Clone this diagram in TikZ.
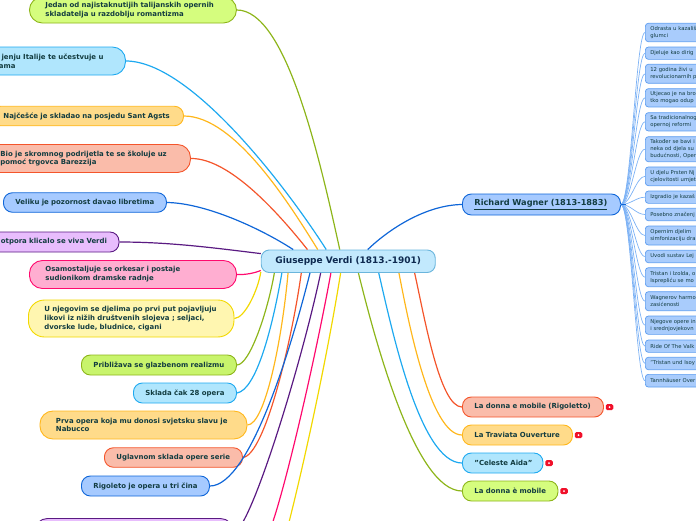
\documentclass[tikz,border=0pt]{standalone}
\usepackage{fontspec}
\setmainfont{DejaVu Sans}
\definecolor{inkteal}{HTML}{123C40}
\definecolor{inknavy}{HTML}{0E2A50}
\definecolor{greenline}{HTML}{8DB51A}
\definecolor{greenfill}{HTML}{D5FD7E}
\definecolor{limefill}{HTML}{C8F46C}
\definecolor{skyline}{HTML}{1EA9F0}
\definecolor{skyfill}{HTML}{B0E6FD}
\definecolor{amberline}{HTML}{FFB71C}
\definecolor{amberfill}{HTML}{FFDB8A}
\definecolor{redline}{HTML}{F4552B}
\definecolor{redfill}{HTML}{FABCAA}
\definecolor{blueline}{HTML}{0F66D8}
\definecolor{bluefill}{HTML}{A6CAFF}
\definecolor{purpleline}{HTML}{5A1A82}
\definecolor{purplefill}{HTML}{E8BDFD}
\definecolor{pinkline}{HTML}{FF0A6E}
\definecolor{pinkfill}{HTML}{FFAED1}
\definecolor{yellowline}{HTML}{F2D800}
\definecolor{yellowfill}{HTML}{FFF6B0}
\definecolor{centerline}{HTML}{6AB5DC}
\definecolor{centerfill}{HTML}{C2E9FD}
\definecolor{leafline}{HTML}{5C9CF0}
\definecolor{leaffill}{HTML}{A9CCFC}
\definecolor{fanline}{HTML}{7DB2F5}
\definecolor{badgered}{HTML}{F0102A}
\tikzstyle{topic}=[draw, anchor=west, align=left, line width=0.9pt, inner ysep=0pt, inner xsep=12pt, rounded corners=9pt, text=inkteal, font=\bfseries\fontsize{6.95}{8.8}\selectfont]
\tikzstyle{ltopic}=[topic, inner xsep=16pt, rounded corners=13pt]
\tikzstyle{leaf}=[draw=leafline, fill=leaffill, anchor=west, align=left, line width=0.7pt, inner ysep=0pt, inner xsep=5pt, rounded corners=3pt, text width=70pt, text=inkteal, font=\fontsize{5.3}{7.2}\selectfont]
\tikzstyle{link}=[line width=1.2pt]
\tikzstyle{fan}=[draw=fanline, line width=0.7pt]
\tikzstyle{badge}=[fill=badgered, inner sep=0pt, minimum width=7.5pt, minimum height=6pt, rounded corners=1.5pt]
\tikzstyle{badgedot}=[fill=white, circle, inner sep=0pt, minimum size=2pt]
\begin{document}
\begin{tikzpicture}[x=1pt, y=-1pt]
        \clip (0, 0) rectangle (696, 520);
        \node[ltopic, draw=greenline, fill=greenfill, text width=175pt, minimum height=26pt] (romantizam) at (29, 10) {Jedan od najistaknutijih talijanskih opernih\\skladatelja u razdoblju romantizma};
        \node[ltopic, draw=skyline, fill=skyfill, inner xsep=22pt, align=right, text width=121pt, minimum height=28pt] (italija) at (-40, 61) {jenju Italije te učestvuje u\\ama\hspace*{88pt}};
        \node[topic, draw=amberline, fill=amberfill, text width=168pt, minimum height=19.5pt] (agata) at (-9, 116) {\mbox{Najčešće je skladao na posjedu Sant Agsts}};
        \node[ltopic, draw=redline, fill=redfill, text width=174pt, minimum height=28pt] (barezzi) at (-16, 158.5) {Bio je skromnog podrijetla te se školuje uz\\pomoć trgovca Barezzija};
        \node[topic, draw=blueline, fill=bluefill, text width=139pt, minimum height=19.5pt] (libreto) at (3, 202.5) {\mbox{Veliku je pozornost davao libretima}};
        \node[topic, draw=purpleline, fill=purplefill, text width=106pt, minimum height=20pt] (viva) at (-11.5, 242) {\mbox{otpora klicalo se viva Verdi}};
        \node[ltopic, draw=pinkline, fill=pinkfill, text width=175pt, minimum height=28pt] (orkestar) at (29, 274.5) {Osamostaljuje se orkesar i postaje\\sudionikom dramske radnje};
        \node[ltopic, draw=yellowline, fill=yellowfill, rounded corners=16pt, text width=173.5pt, minimum height=37pt] (likovi) at (28, 318.5) {U njegovim se djelima po prvi put pojavljuju\\likovi iz nižih društvenih slojeva ; seljaci,\\dvorske lude, bludnice, cigani};
        \node[topic, draw=greenline, fill=limefill, text width=131pt, minimum height=20pt] (realizam) at (81, 365) {\mbox{Približava se glazbenom realizmu}};
        \node[topic, draw=skyline, fill=skyfill, text width=79pt, minimum height=20pt] (skladba) at (133, 393) {\mbox{Sklada čak 28 opera}};
        \node[ltopic, draw=amberline, fill=amberfill, text width=175pt, minimum height=28pt] (nabucco) at (39.5, 425) {Prva opera koja mu donosi svjetsku slavu je\\Nabucco};
        \node[topic, draw=redline, fill=redfill, text width=114pt, minimum height=19.5pt] (serie) at (104, 457.5) {\mbox{Uglavnom sklada opere serie}};
        \node[topic, draw=blueline, fill=bluefill, text width=104pt, minimum height=20pt] (rigoleto) at (81, 486) {\mbox{Rigoleto je opera u tri čina}};
        \node[ltopic, draw=purpleline, fill=purplefill, text width=167pt, minimum height=28pt] (donji) at (34, 532.5) {};
        \coordinate (pinkend) at (270, 530);
        \coordinate (yellowend) at (287, 530);
        \node[draw=centerline, fill=centerfill, line width=0.9pt, rounded corners=8pt, minimum width=174pt, minimum height=22.5pt, inner sep=0pt, text=inknavy, font=\bfseries\fontsize{9}{10}\selectfont] (verdi) at (348.25, 261.25) {Giuseppe Verdi (1813.-1901)};
        \node[topic, draw=blueline, fill=bluefill, text width=134pt, minimum height=21pt, font=\bfseries\fontsize{8.2}{10}\selectfont] (wagner) at (462, 204.5) {\underline{Richard Wagner (1813-1883)}};
        \node[topic, draw=redline, fill=redfill, text width=117pt, minimum height=20pt] (mobile) at (462, 407) {\mbox{La donna e mobile (Rigoletto)}};
        \node[topic, draw=amberline, fill=amberfill, text width=86pt, minimum height=20pt] (traviata) at (462, 435) {\mbox{La Traviata Ouverture}};
        \node[topic, draw=skyline, fill=skyfill, text width=56.5pt, minimum height=20pt] (aida) at (462, 463) {\mbox{"Celeste Aida"}};
        \node[topic, draw=greenline, fill=greenfill, text width=71.5pt, minimum height=20pt] (donna) at (462, 491) {\mbox{La donna è mobile}};
        \node[badge] (badgea) at (609.5, 407) {};
        \node[badge] (badgeb) at (578.5, 435) {};
        \node[badge] (badgec) at (549, 463) {};
        \node[badge] (badged) at (564, 491) {};
        \node[badgedot] (dota) at (badgea) {};
        \node[badgedot] (dotb) at (badgeb) {};
        \node[badgedot] (dotc) at (badgec) {};
        \node[badgedot] (dotd) at (badged) {};
        \node[leaf, minimum height=18.4pt] (wa) at (645, 32.5) {Odrasta u kazališ\\glumci};
        \node[leaf, minimum height=12.3pt] (wb) at (645, 53.2) {Djeluje kao dirig};
        \node[leaf, minimum height=19pt] (wc) at (645, 73.8) {12 godina živi u\\revolucionarnih p};
        \node[leaf, minimum height=18.3pt] (wd) at (645, 97.8) {Utjecao je na bro\\tko mogao odup};
        \node[leaf, minimum height=18.3pt] (we) at (645, 121.8) {Sa tradicionalnog\\opernoj reformi};
        \node[leaf, minimum height=25pt] (wf) at (645, 149.2) {Također se bavi i\\neka od djela su\\budućnosti, Oper};
        \node[leaf, minimum height=18.7pt] (wg) at (645, 176.3) {U djelu Prsten Nj\\cjelovitosti umjet};
        \node[leaf, minimum height=12.3pt] (wh) at (645, 197.2) {Izgradio je kazaš};
        \node[leaf, minimum height=12.4pt] (wi) at (645, 214.5) {Posebno značenj};
        \node[leaf, minimum height=19pt] (wj) at (645, 235.5) {Opernim djelim\\simfonizaciju dra};
        \node[leaf, minimum height=12.4pt] (wk) at (645, 256.5) {Uvodi sustav Lej};
        \node[leaf, minimum height=19pt] (wl) at (645, 277.2) {Tristan i Izolda, o\\Isprepliću se mo};
        \node[leaf, minimum height=19pt] (wm) at (645, 301.2) {Wagnerov harmo\\zasićenosti};
        \node[leaf, minimum height=18.3pt] (wn) at (645, 325.2) {Njegove opere in\\i srednjovjekovn};
        \node[leaf, minimum height=12.3pt] (wo) at (645, 346.2) {Ride Of The Valk};
        \node[leaf, minimum height=12.4pt] (wp) at (645, 363.5) {"Tristan und Isoy};
        \node[leaf, minimum height=12.7pt] (wq) at (645, 380.7) {Tannhäuser Over};
        \draw[link, greenline] (romantizam.east) .. controls (285, 10) and (318, 150) .. (verdi.126.3);
        \draw[link, skyline] (italija.east) .. controls (190, 61) and (285, 185) .. (verdi.152.1);
        \draw[link, amberline] (agata.east) .. controls (235, 116) and (290, 205) .. (verdi.159.6);
        \draw[link, redline] (barezzi.east) .. controls (230, 158) and (280, 215) .. (verdi.164.4);
        \draw[link, blueline] (libreto.east) .. controls (205, 203) and (260, 228) .. (verdi.168.7);
        \draw[link, purpleline] (viva.east) .. controls (170, 242) and (215, 248) .. (verdi.175.9);
        \draw[link, pinkline] (orkestar.east) .. controls (245, 275) and (255, 273) .. (verdi.186);
        \draw[link, yellowline] (likovi.east) .. controls (245, 318) and (258, 290) .. (verdi.187.9);
        \draw[link, greenline] (realizam.east) .. controls (250, 365) and (268, 310) .. (verdi.189);
        \draw[link, skyline] (skladba.east) .. controls (256, 390) and (272, 330) .. (verdi.190.2);
        \draw[link, amberline] (nabucco.east) .. controls (265, 425) and (282, 340) .. (verdi.191.9);
        \draw[link, redline] (serie.east) .. controls (265, 455) and (292, 340) .. (verdi.194.3);
        \draw[link, blueline] (rigoleto.east) .. controls (250, 486) and (292, 345) .. (verdi.197.2);
        \draw[link, purpleline] (donji.east) .. controls (250, 530) and (300, 370) .. (verdi.203.2);
        \draw[link, pinkline] (pinkend) .. controls (285, 490) and (315, 360) .. (verdi.214.7);
        \draw[link, yellowline] (yellowend) .. controls (300, 480) and (325, 370) .. (verdi.237.2);
        \draw[link, blueline] (verdi.31) .. controls (388, 230) and (425, 205) .. (wagner.west);
        \draw[link, redline] (verdi.350.8) .. controls (425, 320) and (440, 407) .. (mobile.west);
        \draw[link, amberline] (verdi.347.3) .. controls (408, 320) and (430, 435) .. (traviata.west);
        \draw[link, skyline] (verdi.339.3) .. controls (392, 330) and (420, 463) .. (aida.west);
        \draw[link, greenline] (verdi.311) .. controls (375, 340) and (415, 491) .. (donna.west);
        \draw[fan] (wagner.east) .. controls +(10, 0) and +(-9, 0) .. (wa.west);
        \draw[fan] (wagner.east) .. controls +(10, 0) and +(-9, 0) .. (wb.west);
        \draw[fan] (wagner.east) .. controls +(10, 0) and +(-9, 0) .. (wc.west);
        \draw[fan] (wagner.east) .. controls +(10, 0) and +(-9, 0) .. (wd.west);
        \draw[fan] (wagner.east) .. controls +(10, 0) and +(-9, 0) .. (we.west);
        \draw[fan] (wagner.east) .. controls +(10, 0) and +(-9, 0) .. (wf.west);
        \draw[fan] (wagner.east) .. controls +(10, 0) and +(-9, 0) .. (wg.west);
        \draw[fan] (wagner.east) .. controls +(10, 0) and +(-9, 0) .. (wh.west);
        \draw[fan] (wagner.east) .. controls +(10, 0) and +(-9, 0) .. (wi.west);
        \draw[fan] (wagner.east) .. controls +(10, 0) and +(-9, 0) .. (wj.west);
        \draw[fan] (wagner.east) .. controls +(10, 0) and +(-9, 0) .. (wk.west);
        \draw[fan] (wagner.east) .. controls +(10, 0) and +(-9, 0) .. (wl.west);
        \draw[fan] (wagner.east) .. controls +(10, 0) and +(-9, 0) .. (wm.west);
        \draw[fan] (wagner.east) .. controls +(10, 0) and +(-9, 0) .. (wn.west);
        \draw[fan] (wagner.east) .. controls +(10, 0) and +(-9, 0) .. (wo.west);
        \draw[fan] (wagner.east) .. controls +(10, 0) and +(-9, 0) .. (wp.west);
        \draw[fan] (wagner.east) .. controls +(10, 0) and +(-9, 0) .. (wq.west);
        \draw[link, blueline] (wagner.east) -- +(5, 0);
    \end{tikzpicture}
\end{document}
